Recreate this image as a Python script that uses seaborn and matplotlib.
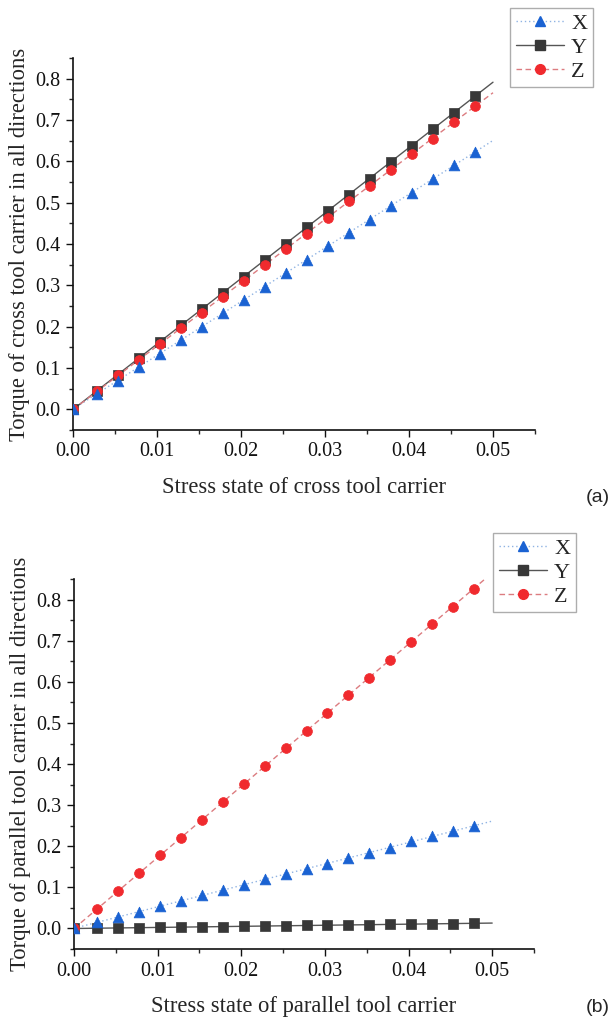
import numpy as np
import pandas as pd
import matplotlib
matplotlib.use("Agg")
from matplotlib import pyplot as plt
from matplotlib.lines import Line2D
from matplotlib.ticker import MultipleLocator
import seaborn as sns

sns.set_style("ticks")
plt.rcParams["font.family"] = ["Liberation Serif", "DejaVu Serif"]

# strain (x) values of the measured points
strain = [0, 0.0028, 0.0053, 0.0078, 0.0103, 0.0128, 0.0153, 0.0178, 0.0203, 0.0228,
          0.0253, 0.0278, 0.0303, 0.0328, 0.0353, 0.0378, 0.0403, 0.0428, 0.0453, 0.0478]

# (a) cross tool carrier
cross_x = [0, 0.038, 0.069, 0.103, 0.134, 0.167, 0.200, 0.232, 0.264, 0.297,
           0.330, 0.361, 0.394, 0.426, 0.458, 0.491, 0.524, 0.558, 0.590, 0.623]
cross_y = [0, 0.044, 0.083, 0.123, 0.163, 0.203, 0.242, 0.281, 0.321, 0.361,
           0.400, 0.440, 0.480, 0.519, 0.558, 0.598, 0.638, 0.677, 0.717, 0.757]
cross_z = [0, 0.044, 0.082, 0.119, 0.157, 0.196, 0.232, 0.272, 0.310, 0.348,
           0.387, 0.425, 0.464, 0.503, 0.541, 0.579, 0.618, 0.655, 0.694, 0.733]

# (b) parallel tool carrier
par_x = [0, 0.015, 0.029, 0.041, 0.055, 0.067, 0.081, 0.093, 0.106, 0.120,
         0.132, 0.145, 0.158, 0.171, 0.184, 0.197, 0.212, 0.224, 0.237, 0.250]
par_y = [0, 0.0007, 0.0013, 0.002, 0.0027, 0.0033, 0.004, 0.0047, 0.0053, 0.006,
         0.0066, 0.0073, 0.008, 0.0086, 0.0093, 0.010, 0.0106, 0.0113, 0.012, 0.0126]
par_z = [0, 0.048, 0.091, 0.134, 0.178, 0.221, 0.264, 0.308, 0.351, 0.395,
         0.439, 0.481, 0.525, 0.567, 0.610, 0.654, 0.697, 0.741, 0.782, 0.827]

fit_range = [0, 0.05]

# name: (marker colour, line colour, marker, linestyle)
styles = {
    "X": ("#1a62d2", "#8fb3e3", "^", (0, (1, 2))),
    "Y": ("#383838", "#555555", "s", "-"),
    "Z": ("#f02a2e", "#dc7c80", "o", (0, (4, 2.5))),
}
draw_order = ["Y", "Z", "X"]


def panel(ax, series, xlabel, ylabel):
    for name in ["X", "Y", "Z"]:
        mc, lc, mk, ls = styles[name]
        k, b = np.polyfit(strain, series[name], 1)
        fx = np.array(fit_range)
        sns.lineplot(x=fx, y=k * fx + b, ax=ax, color=lc, lw=1.0, linestyle=ls, zorder=2)
    for name in draw_order:
        mc, lc, mk, ls = styles[name]
        df = pd.DataFrame({"s": strain, "t": series[name]})
        sns.scatterplot(data=df, x="s", y="t", ax=ax, marker=mk, color=mc,
                        s=50 if mk != "^" else 60, edgecolor=mc, linewidth=0.5, zorder=3)
    ax.set_xlim(0, 0.055)
    ax.set_ylim(-0.05, 0.85)
    ax.xaxis.set_minor_locator(MultipleLocator(0.005))
    ax.yaxis.set_minor_locator(MultipleLocator(0.05))
    ax.set_xticks([0, 0.01, 0.02, 0.03, 0.04, 0.05])
    ax.set_xticklabels(["0.00", "0.01", "0.02", "0.03", "0.04", "0.05"])
    ax.set_yticks(np.arange(0, 0.81, 0.1))
    ax.set_yticklabels(["%.1f" % v for v in np.arange(0, 0.81, 0.1)])
    ax.tick_params(which="major", length=5, width=1, labelsize=14.5, colors="#111111", pad=4)
    ax.tick_params(which="minor", length=3, width=1)
    for side in ["top", "right"]:
        ax.spines[side].set_visible(False)
    for side in ["left", "bottom"]:
        ax.spines[side].set_linewidth(1.2)
        ax.spines[side].set_color("#111111")
    ax.set_xlabel(xlabel, fontsize=16.3, labelpad=11)
    ax.set_ylabel(ylabel, fontsize=16.3, labelpad=4)


fig = plt.figure(figsize=(6.16, 10.26), dpi=100)
ax1 = fig.add_axes([0.1185, 0.5809, 0.75, 0.3626])
ax2 = fig.add_axes([0.1201, 0.0750, 0.7468, 0.3606])

panel(ax1, {"X": cross_x, "Y": cross_y, "Z": cross_z},
      "Stress state of cross tool carrier",
      "Torque of cross tool carrier in all directions")
panel(ax2, {"X": par_x, "Y": par_y, "Z": par_z},
      "Stress state of parallel tool carrier",
      "Torque of parallel tool carrier in all directions")

handles = []
for name in ["X", "Y", "Z"]:
    mc, lc, mk, ls = styles[name]
    handles.append(Line2D([], [], color=lc, lw=1.0, linestyle=ls, marker=mk,
                          markerfacecolor=mc, markeredgecolor=mc, markersize=7))

for anchor in [(510 / 616, 1 - 8 / 1026), (493 / 616, 1 - 533 / 1026)]:
    leg = fig.legend(handles, ["X", "Y", "Z"], loc="upper left", bbox_to_anchor=anchor,
                     bbox_transform=fig.transFigure, fontsize=16, frameon=True,
                     fancybox=False, borderpad=0.25, handlelength=2.2, handletextpad=0.3,
                     labelspacing=0.15, borderaxespad=0)
    leg.get_frame().set_edgecolor("#999999")
    leg.get_frame().set_linewidth(1.0)

fig.text(598 / 616, 1 - 497 / 1026, "(a)", fontsize=14, ha="center", va="center",
         family=["Liberation Sans", "DejaVu Sans"])
fig.text(598 / 616, 1 - 1008 / 1026, "(b)", fontsize=14, ha="center", va="center",
         family=["Liberation Sans", "DejaVu Sans"])

fig.savefig("out.png", dpi=100)
